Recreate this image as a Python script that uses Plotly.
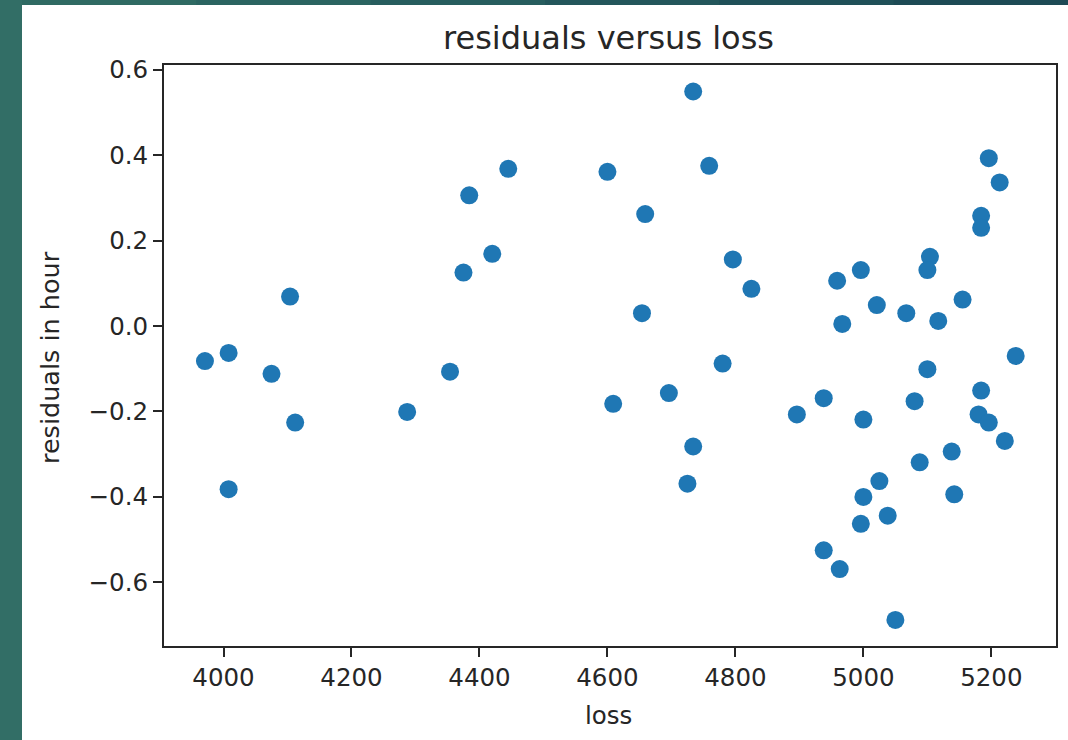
import plotly.graph_objects as go

# Data
loss = [3971, 4008, 4075, 4112, 4008, 4287, 4354, 4104, 4384, 4445, 4420, 4375,
        4734, 4600, 4759, 4659, 4796, 4825, 4654, 4959, 4996, 4967, 5021, 5067,
        5117, 5155, 5104, 5100, 5184, 5184, 5196, 5213,
        4609, 4696, 4780, 4734, 4725, 4896, 4938, 5000, 5080, 5100, 5238, 5184,
        5180, 5196, 5221, 5138, 5088, 5025, 5000, 5142, 5038, 4996, 4938, 4963, 5050]
residuals = [-0.082, -0.063, -0.112, -0.226, -0.382, -0.201, -0.107, 0.069, 0.306, 0.368, 0.169, 0.125,
             0.549, 0.361, 0.375, 0.262, 0.156, 0.087, 0.030, 0.106, 0.131, 0.005, 0.049, 0.030,
             0.012, 0.062, 0.162, 0.131, 0.258, 0.230, 0.393, 0.336,
             -0.182, -0.157, -0.088, -0.282, -0.369, -0.207, -0.169, -0.219, -0.176, -0.101, -0.070, -0.151,
             -0.207, -0.226, -0.269, -0.294, -0.319, -0.363, -0.400, -0.394, -0.444, -0.463, -0.525, -0.569, -0.688]

x_ticks = [4000, 4200, 4400, 4600, 4800, 5000, 5200]
y_ticks = [-0.6, -0.4, -0.2, 0.0, 0.2, 0.4, 0.6]

title_text = "residuals versus loss"
x_label = "loss"
y_label = "residuals in hour"

FONT = "DejaVu Sans"
TXT = "#262626"
AX = "#262626"

fig = go.Figure()
fig.add_trace(go.Scatter(
    x=loss, y=residuals, mode="markers",
    marker=dict(color="#1f77b4", size=18, line=dict(width=0)),
    showlegend=False, hoverinfo="x+y",
))

W, H = 1068, 740
L, R, T, B = 164, 12, 65, 94
pw, ph = W - L - R, H - T - B

def px(xp):
    return (xp - L) / pw

def py(yp):
    return (H - B - yp) / ph

shapes = [
    # white slide area
    dict(type="rect", xref="paper", yref="paper", x0=px(22), x1=px(W + 5), y0=py(H + 5), y1=py(5),
         fillcolor="white", line=dict(width=0), layer="below"),
]
# darker gradient on top strip toward the right
top_cols = ["#2f6a63", "#2b6461", "#275d5e", "#23565b", "#205058", "#1d4a55"]
seg = (W - 22) / len(top_cols)
for i, c in enumerate(top_cols):
    shapes.append(dict(type="rect", xref="paper", yref="paper",
                       x0=px(22 + i * seg), x1=px(22 + (i + 1) * seg + 1), y0=py(5), y1=py(-2),
                       fillcolor=c, line=dict(width=0), layer="below"))

axis_common = dict(
    showline=True, linecolor=AX, linewidth=2, mirror=True,
    ticks="outside", ticklen=9, tickwidth=2, tickcolor=AX,
    showgrid=False, zeroline=False,
    tickfont=dict(family=FONT, size=24.5, color=TXT),
)

fig.update_layout(
    width=W, height=H,
    margin=dict(l=L, r=R, t=T, b=B, autoexpand=False),
    paper_bgcolor="#326e66",
    plot_bgcolor="white",
    shapes=shapes,
    xaxis=dict(range=[3907, 5301], tickvals=x_ticks, ticktext=[str(v) for v in x_ticks], **axis_common),
    yaxis=dict(range=[-0.749, 0.611], tickvals=y_ticks, tickformat=".1f", **axis_common),
    annotations=[
        dict(text=title_text, xref="paper", yref="paper", x=px(608), y=py(38), xanchor="center", yanchor="middle",
             showarrow=False, font=dict(family=FONT, size=32, color=TXT)),
        dict(text=x_label, xref="paper", yref="paper", x=px(608), y=py(715), xanchor="center", yanchor="middle",
             showarrow=False, font=dict(family=FONT, size=24.5, color=TXT)),
        dict(text=y_label, xref="paper", yref="paper", x=px(50), y=py(357), xanchor="center", yanchor="middle",
             textangle=-90, showarrow=False, font=dict(family=FONT, size=25.5, color=TXT)),
    ],
)

fig.write_html(
    "out.html",
    config={"displayModeBar": False},
    post_script="document.body.style.margin='0';document.body.style.overflow='hidden';",
)
